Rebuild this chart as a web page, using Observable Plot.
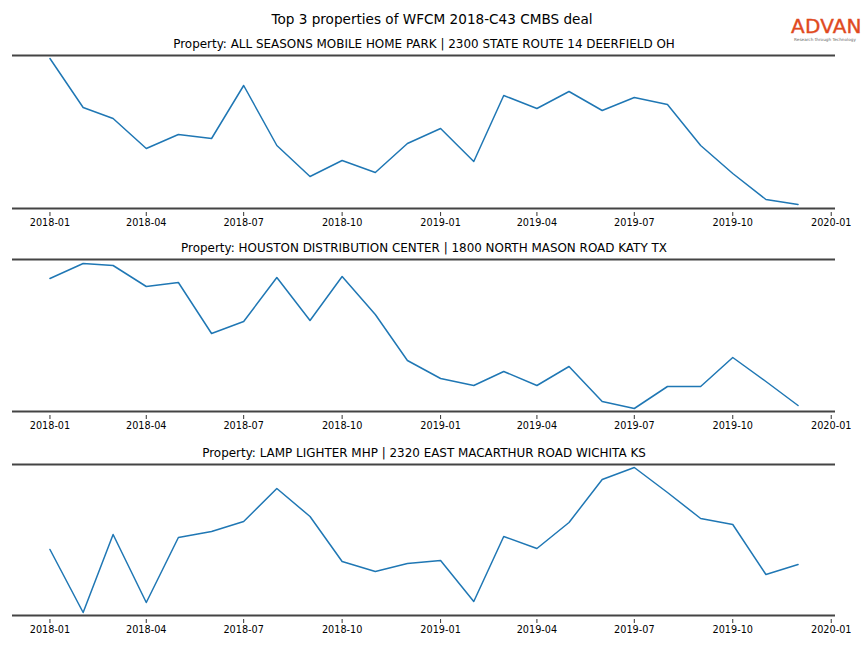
<!DOCTYPE html>
<html>
<head>
<meta charset="utf-8">
<script src="https://cdn.jsdelivr.net/npm/d3@7"></script>
<script src="https://cdn.jsdelivr.net/npm/@observablehq/plot@0.6"></script>
<style>
  body { margin: 0; background: #fff; font-family: "DejaVu Sans", sans-serif; }
  #wrap { position: relative; width: 864px; height: 648px; }
  #title { height: 30px; line-height: 38px; text-align: center; font-size: 13.6px; color: #000; }
  #logo { position: absolute; left: 791px; top: 15px; width: 68px; text-align: center; }
  #logo .big { font-size: 20px; font-weight: 500; color: #e04a1e; letter-spacing: 0.2px; line-height: 22px; -webkit-text-stroke: 0.4px #e04a1e; }
  #logo .small { font-size: 4.2px; color: #666; line-height: 5px; white-space: nowrap; }
  svg { display: block; }
</style>
</head>
<body>
<div id="wrap">
  <div id="title">Top 3 properties of WFCM 2018-C43 CMBS deal</div>
  <div id="logo"><div class="big">ADVAN</div><div class="small">Research through Technology</div></div>
  <div id="panels"></div>
</div>
<script>
const months = ["2018-01","2018-02","2018-03","2018-04","2018-05","2018-06","2018-07","2018-08","2018-09","2018-10","2018-11","2018-12",
                "2019-01","2019-02","2019-03","2019-04","2019-05","2019-06","2019-07","2019-08","2019-09","2019-10","2019-11","2019-12"];

const titles = [
  "Property: ALL SEASONS MOBILE HOME PARK | 2300 STATE ROUTE 14 DEERFIELD OH",
  "Property: HOUSTON DISTRIBUTION CENTER | 1800 NORTH MASON ROAD KATY TX",
  "Property: LAMP LIGHTER MHP | 2320 EAST MACARTHUR ROAD WICHITA KS"
];

const seriesAllSeasons = [150, 101, 90, 60, 74, 70, 123, 63, 32, 48, 36, 65, 80, 47, 113, 100, 117, 98, 111, 104, 63, 35, 9, 4];
const seriesHouston    = [133, 148, 146, 125, 129, 78, 90, 134, 91, 135, 97, 51, 33, 26, 40, 26, 45, 10, 3, 25, 25, 54, 30, 6];
const seriesLampLighter = [66, 3, 81, 13, 78, 84, 94, 127, 99, 54, 44, 52, 55, 14, 79, 67, 93, 136, 148, 123, 97, 91, 41, 51];

const yDomains = [[0, 153], [0, 152], [0, 151]];

const xTicks = ["2018-01","2018-04","2018-07","2018-10","2019-01","2019-04","2019-07","2019-10","2020-01"];
const xDomain = ["2017-11-27", "2020-01-05"];

const parseMonth = d3.utcParse("%Y-%m");
const parseDay = d3.utcParse("%Y-%m-%d");
const allSeries = [seriesAllSeasons, seriesHouston, seriesLampLighter];

const layout = [
  {height: 204, top: 25, bottom: 26},
  {height: 204, top: 25, bottom: 27},
  {height: 210, top: 26, bottom: 33}
];

const container = document.getElementById("panels");
allSeries.forEach((vals, i) => {
  const data = months.map((m, j) => ({date: parseMonth(m), value: vals[j]}));
  const yd = yDomains[i];
  const L = layout[i];
  const chart = Plot.plot({
    width: 864,
    height: L.height,
    marginLeft: 12,
    marginRight: 29,
    marginTop: L.top,
    marginBottom: L.bottom,
    style: {fontFamily: "DejaVu Sans, sans-serif", fontSize: "9.7px", color: "#000", background: "#fff"},
    x: {type: "utc", domain: xDomain.map(parseDay), label: null},
    y: {domain: yd, axis: null},
    marks: [
      Plot.axisX(xTicks.map(parseMonth), {tickFormat: d3.utcFormat("%Y-%m"), tickSize: 4, tickPadding: 3, dy: 4, stroke: "#333", label: null, fontSize: 9.7}),
      Plot.lineY(data, {x: "date", y: "value", stroke: "#1f77b4", strokeWidth: 1.5}),
      Plot.ruleY([yd[0], yd[1]], {stroke: "#444", strokeWidth: 2}),
      Plot.text([titles[i]], {frameAnchor: "top", dy: -16, fontSize: 11.95, fill: "#000", text: d => d})
    ]
  });
  container.appendChild(chart);
});
</script>
</body>
</html>
